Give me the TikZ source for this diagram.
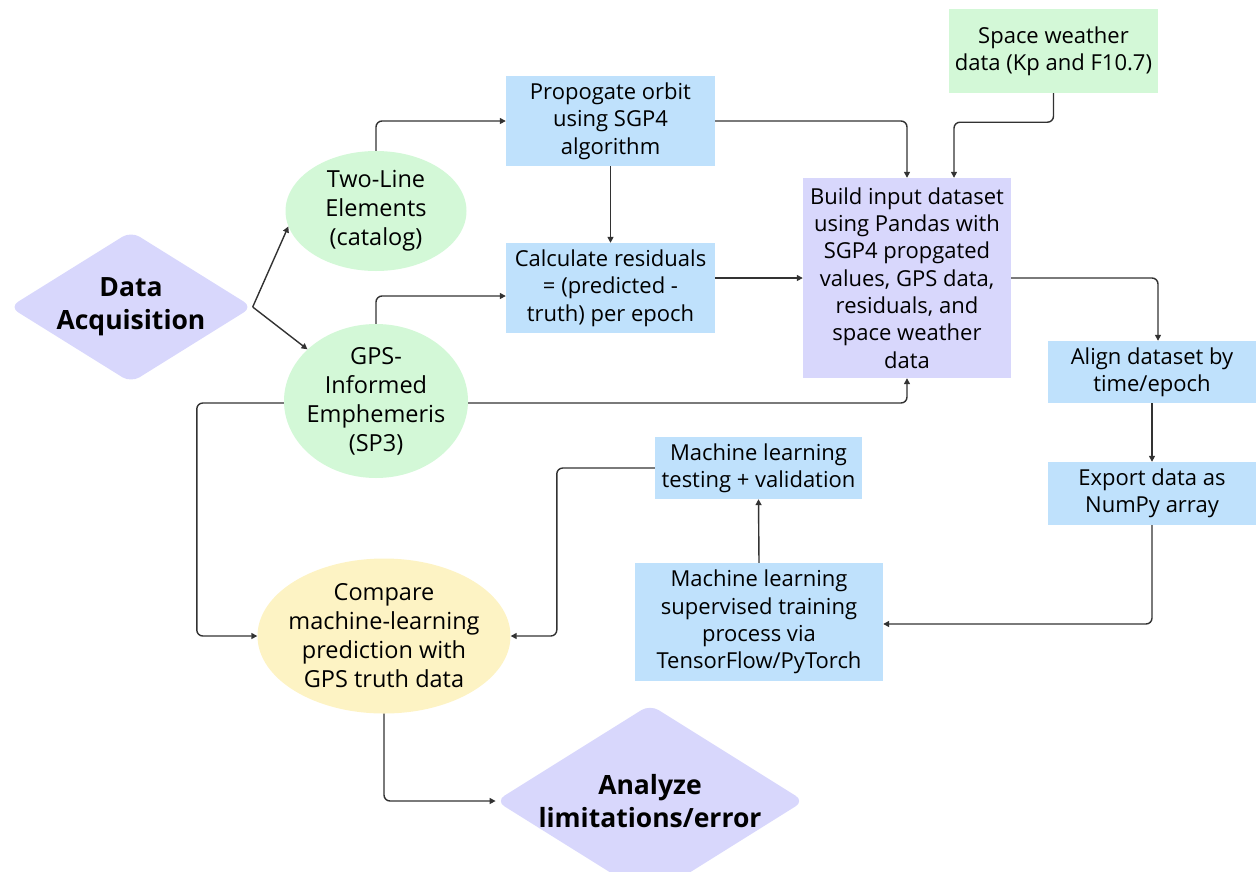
\documentclass[tikz,border=0pt]{standalone}
\usepackage{fontspec}
\setmainfont{Open Sans}
\usetikzlibrary{shapes.geometric,arrows.meta}
\definecolor{lav}{RGB}{216,215,252}
\definecolor{lblue}{RGB}{191,225,252}
\definecolor{lgreen}{RGB}{211,248,215}
\definecolor{lyel}{RGB}{253,243,196}
\definecolor{conn}{RGB}{50,50,50}
\begin{document}
\begin{tikzpicture}[x=1pt,y=-1pt,
  txt/.style={inner sep=0pt, align=center, text=black, font=\fontsize{22}{27.3}\selectfont},
  boxnode/.style={txt, rectangle},
  ellnode/.style={txt, ellipse, inner xsep=-28pt, inner ysep=-14pt, font=\fontsize{23.5}{29}\selectfont},
  dianode/.style={txt, diamond, aspect=1.6, rounded corners=10pt, fill=lav,
    font=\fontsize{26.5}{33}\selectfont\bfseries},
  arr/.style={draw=conn, line width=1.4pt, rounded corners=6pt,
    -{Triangle[length=6pt,width=6pt]}}]
\useasboundingbox (0,0) rectangle (1256,871);

\node[dianode, minimum width=243, minimum height=146] (da) at (131,307) {Data\\Acquisition};
\node[ellnode, fill=lgreen, minimum width=181, minimum height=120] (tle) at (376,211) {Two-Line\\Elements\\(catalog)};
\node[ellnode, fill=lgreen, minimum width=184, minimum height=154] (gps) at (376,401) {GPS-\\Informed\\Emphemeris\\(SP3)};
\node[boxnode, fill=lblue, minimum width=209, minimum height=90] (prop) at (610.5,121) {Propogate orbit\\using SGP4\\algorithm};
\node[boxnode, fill=lblue, minimum width=209, minimum height=90] (calc) at (610.5,288) {Calculate residuals\\= (predicted -\\truth) per epoch};
\node[boxnode, fill=lgreen, minimum width=209, minimum height=84] (sw) at (1053.5,51) {Space weather\\data (Kp and F10.7)};
\node[boxnode, fill=lav, minimum width=208, minimum height=200] (build) at (907,278) {Build input dataset\\using Pandas with\\SGP4 propgated\\values, GPS data,\\residuals, and\\space weather\\data};
\node[boxnode, fill=lblue, minimum width=208, minimum height=62] (align) at (1152,372) {Align dataset by\\time/epoch};
\node[boxnode, fill=lblue, minimum width=208, minimum height=63] (exp) at (1152,493.5) {Export data as\\NumPy array};
\node[boxnode, fill=lblue, minimum width=207, minimum height=62] (mlt) at (758.5,468) {Machine learning\\testing + validation};
\node[boxnode, fill=lblue, minimum width=248, minimum height=118] (mltr) at (759,622) {Machine learning\\supervised training\\process via\\TensorFlow/PyTorch};
\node[ellnode, fill=lyel, minimum width=253, minimum height=155] (cmp) at (384,636) {Compare\\machine-learning\\prediction with\\GPS truth data};
\node[dianode, minimum width=294, minimum height=142] (an) at (650,801) {Analyze\\limitations/error};

\draw[arr] (da.east) -- (tle.190);
\draw[arr] (da.east) -- (gps.143);
\draw[arr] (tle.north) |- (prop.west);
\draw[arr] (prop.south) -- (calc.north);
\draw[arr] (prop.east) -| (build.north);
\draw[arr] (sw.south) -- ++(0,29) -| ([xshift=47pt]build.north);
\draw[arr] (gps.north) |- ([yshift=-8pt]calc.west);
\draw[arr] (calc.east |- build.west) -- (build.west);
\draw[arr] ([yshift=-2pt]gps.east) -| (build.south);
\draw[arr] (build.east) -| ([xshift=6pt]align.north);
\draw[arr] (align.south) -- (exp.north);
\draw[arr] (exp.south) |- ([yshift=-2pt]mltr.east);
\draw[arr] (mltr.north) -- (mlt.south);
\draw[arr] (mlt.west) -- ++(-98,0) |- (cmp.east);
\draw[arr] ([yshift=-2pt]gps.west) -- ++(-87,0) |- (cmp.west);
\draw[arr] (cmp.south) |- (an.west);
\end{tikzpicture}
\end{document}
